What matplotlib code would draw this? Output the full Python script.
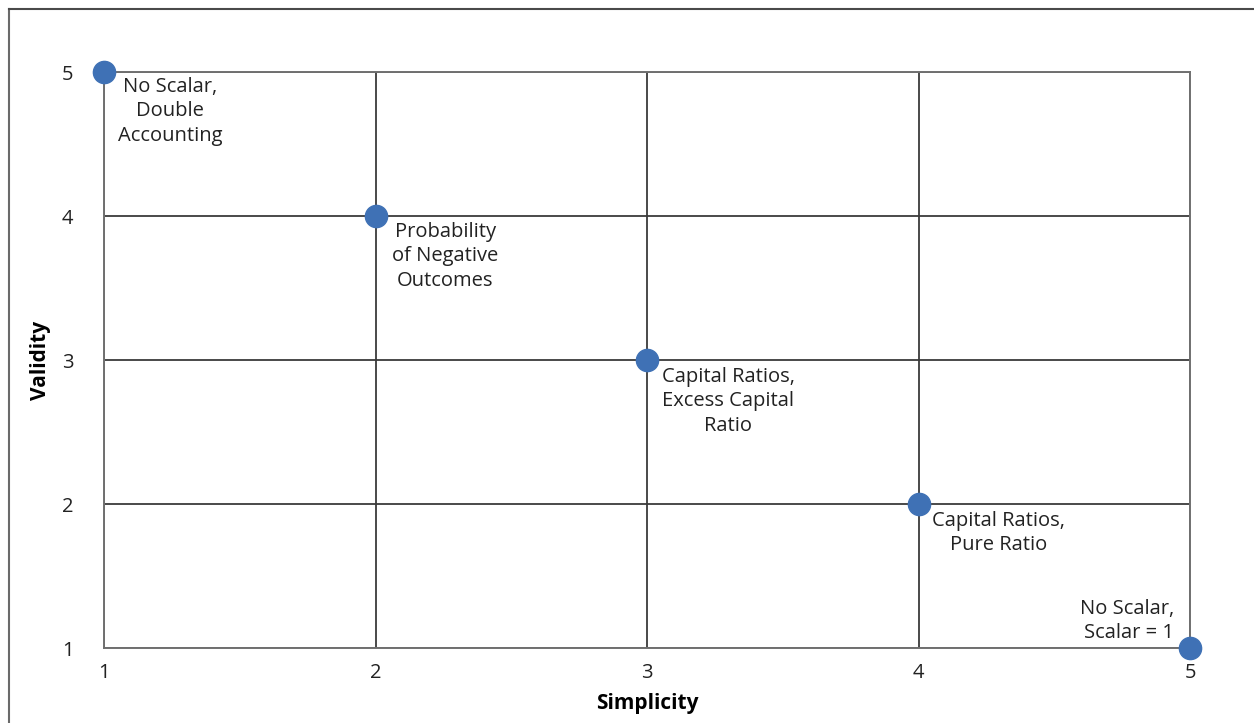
import matplotlib.pyplot as plt
from matplotlib.lines import Line2D

simplicity = [1, 2, 3, 4, 5]
validity = [5, 4, 3, 2, 1]
labels = ["No Scalar,\nDouble\nAccounting",
          "Probability\nof Negative\nOutcomes",
          "Capital Ratios,\nExcess Capital\nRatio",
          "Capital Ratios,\nPure Ratio",
          "No Scalar,\nScalar = 1"]
ticks = [1, 2, 3, 4, 5]

# label offsets in pixels, alignment
offsets = [(66, -39, 'center'), (70, -40, 'center'), (81, -41, 'center'),
           (80, -29, 'center'), (-16, 27, 'right')]

plt.rcParams['font.family'] = ['Open Sans', 'DejaVu Sans']

fig = plt.figure(figsize=(12.54, 7.23), dpi=100)
ax = fig.add_axes([104/1254, 1-648/723, (1190-104)/1254, (648-72)/723])

ax.set_xlim(1, 5)
ax.set_ylim(1, 5)
ax.set_xticks(ticks)
ax.set_yticks(ticks)
ax.grid(True, color='#3a3a3a', linewidth=1.3)
ax.set_axisbelow(True)
for s in ax.spines.values():
    s.set_color('#707070')
    s.set_linewidth(1.4)
ax.tick_params(length=0, labelsize=14.5, colors='#222222')
ax.tick_params(axis='x', pad=11)
ax.tick_params(axis='y', pad=22)

ax.plot(simplicity, validity, 'o', color='#3f71b5', markersize=16,
        linestyle='none', clip_on=False, zorder=5)

for x, y, lab, (dx, dy, ha) in zip(simplicity, validity, labels, offsets):
    ax.annotate(lab, (x, y), xytext=(dx, dy), textcoords='offset pixels',
                ha=ha, va='center', fontsize=14.5, color='#222222',
                linespacing=1.3, multialignment=ha)

ax.set_xlabel("Simplicity", fontsize=15, fontweight='bold', labelpad=7)
ax.set_ylabel("Validity", fontsize=15, fontweight='bold', labelpad=8)

# outer frame (left and top visible)
fig.add_artist(Line2D([9/1254, 9/1254], [0, 1-9/723], color='#6a6a6a',
                      linewidth=1.5, transform=fig.transFigure))
fig.add_artist(Line2D([9/1254, 1], [1-9/723, 1-9/723], color='#4a4a4a',
                      linewidth=1.5, transform=fig.transFigure))

fig.savefig('out.png', dpi=100)
